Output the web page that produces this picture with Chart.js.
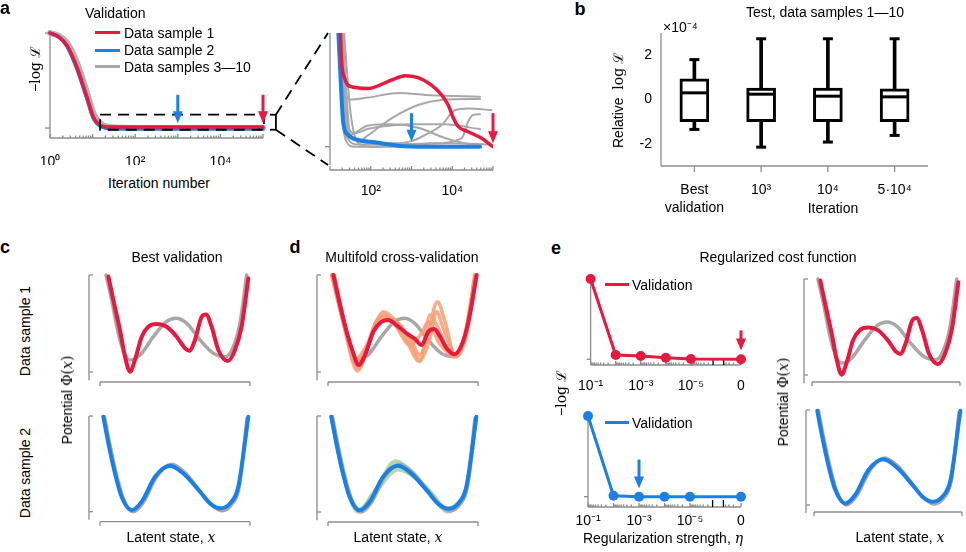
<!DOCTYPE html>
<html>
<head>
<meta charset="utf-8">
<script src="https://cdn.jsdelivr.net/npm/chart.js@4.4.1/dist/chart.umd.min.js"></script>
<style>
  html, body { margin: 0; padding: 0; background: #fff; }
  #fig { position: relative; width: 966px; height: 552px; overflow: hidden;
         font-family: 'Liberation Sans', Arial, sans-serif; font-size: 14px; color: #000; }
  #fig canvas { position: absolute; }
  .lbl { position: absolute; white-space: nowrap; line-height: 1; }
  .tag { font-weight: bold; font-size: 18px; }
  .m { font-family: 'DejaVu Serif', 'Liberation Serif', serif; }
  .mi { font-family: 'DejaVu Serif', 'Liberation Serif', serif; font-style: italic; }
  .sw { position: absolute; height: 3px; }
</style>
</head>
<body>
<div id="fig"></div>
<script>
// ---------- a: validation -log L against iteration (overview) ----------
const overviewIter = [1, 1.6, 2.5, 4.2, 7.3, 10.4, 15, 26, 100, 100000];
const overviewRed  = [1.0, 0.96, 0.87, 0.65, 0.33, 0.12, 0.03, 0.01, 0.01, 0.01];
const overviewBlue = [1.0, 0.96, 0.86, 0.63, 0.31, 0.10, 0.02, -0.005, -0.008, -0.008];
const overviewGray = [1.0, 0.97, 0.90, 0.70, 0.38, 0.16, 0.05, 0.01, 0.0, 0.0];
const zoomBoxIter = [15, 105000];
const zoomBoxLoss = [-0.018, 0.14];

// ---------- a: magnified tail ----------
const redZoomIter  = [18, 19, 23, 34, 87, 324, 692, 1445, 3090, 5500, 7943, 10700, 14100, 24500, 52500, 100000];
const redZoomLoss  = [1.03, 0.79, 0.61, 0.537, 0.522, 0.597, 0.636, 0.618, 0.552, 0.463, 0.373, 0.254, 0.179, 0.134, 0.075, 0.0];
const blueZoomIter = [16, 18, 21, 28, 49, 126, 468, 2138, 48000];
const blueZoomLoss = [1.03, 0.642, 0.224, 0.104, 0.06, 0.039, 0.009, 0.0, 0.0];
const grayZoomIter = [
  [16, 21, 30, 87, 468, 3090, 48000],
  [20, 28, 50, 87, 324, 1445, 5500, 48000],
  [20, 32, 87, 316, 1000, 2138, 5500, 11700, 24500, 91000],
  [19, 25, 50, 316, 3162, 17000, 24500, 32400, 48000],
  [18, 25, 40, 87, 316, 1000, 6310, 48000],
  [20, 28, 87, 324, 1445, 6310, 20000, 48000],
  [17, 20, 25, 40, 316, 48000],
  [22, 32, 50, 100, 1000, 10000, 91000]
];
const grayZoomLoss = [
  [1.03, 0.6, 0.42, 0.44, 0.48, 0.46, 0.448],
  [1.03, 0.15, 0.05, 0.104, 0.254, 0.373, 0.418, 0.427],
  [1.03, 0.1, 0.04, 0.03, 0.05, 0.104, 0.194, 0.328, 0.343, 0.328],
  [1.03, 0.1, 0.02, 0.02, 0.03, 0.075, 0.224, 0.284, 0.29],
  [1.03, 0.25, 0.12, 0.16, 0.19, 0.2, 0.2, 0.158],
  [1.03, 0.1, 0.19, 0.2, 0.17, 0.08, 0.03, 0.01],
  [1.03, 0.3, 0.05, 0.0, 0.0, 0.0],
  [1.03, 0.3, 0.03, 0.0, 0.02, 0.03, 0.02]
];

// ---------- b: test box plots (x 1e-4) ----------
const boxLabels = [['Best', 'validation'], '10³', '10⁴', '5·10⁴'];
const boxMin    = [-1.35, -2.15, -1.92, -1.62];
const boxQ1     = [-1.0, -1.0, -1.0, -1.0];
const boxMedian = [0.3, 0.24, 0.15, 0.12];
const boxQ3     = [0.93, 0.52, 0.52, 0.48];
const boxMax    = [1.8, 2.74, 2.74, 2.74];
const boxTicks  = [-2, 0, 2];

// ---------- c, d, e: potentials (latent x and phi both in axis units 0..1) ----------
const truth1X = [0.04, 0.078, 0.122, 0.167, 0.2, 0.267, 0.356, 0.444, 0.507, 0.578, 0.667, 0.756, 0.836, 0.889, 0.933, 0.978];
const truth1Y = [1.0, 0.742, 0.399, 0.175, 0.124, 0.175, 0.364, 0.519, 0.553, 0.502, 0.33, 0.192, 0.158, 0.261, 0.502, 1.0];
const best1X  = [0.056, 0.089, 0.133, 0.167, 0.2, 0.233, 0.278, 0.322, 0.378, 0.444, 0.511, 0.567, 0.596, 0.633, 0.678, 0.707, 0.744, 0.789, 0.851, 0.9, 0.944, 0.989];
const best1Y  = [0.983, 0.742, 0.433, 0.158, 0.003, 0.124, 0.364, 0.467, 0.495, 0.467, 0.364, 0.244, 0.22, 0.33, 0.57, 0.594, 0.467, 0.227, 0.113, 0.227, 0.467, 0.966];
const truth2X = [0.03, 0.065, 0.11, 0.155, 0.22, 0.29, 0.38, 0.478, 0.566, 0.675, 0.745, 0.812, 0.875, 0.928, 0.98];
const truth2Y = [0.993, 0.71, 0.39, 0.14, 0.0, 0.1, 0.37, 0.495, 0.41, 0.2, 0.07, 0.01, 0.07, 0.26, 0.98];
const best2X  = [0.022, 0.056, 0.1, 0.144, 0.211, 0.278, 0.367, 0.467, 0.556, 0.667, 0.733, 0.8, 0.867, 0.922, 0.989];
const best2Y  = [0.993, 0.714, 0.4, 0.157, 0.017, 0.105, 0.366, 0.481, 0.4, 0.209, 0.087, 0.035, 0.087, 0.261, 0.993];
const cv1X = [0.036, 0.08, 0.124, 0.169, 0.202, 0.247, 0.302, 0.358, 0.402, 0.469, 0.524, 0.58, 0.624, 0.669, 0.709, 0.747, 0.791, 0.842, 0.891, 0.936, 0.991];
const cv1Y = [1.0, 0.69, 0.416, 0.192, 0.072, 0.175, 0.416, 0.519, 0.536, 0.467, 0.399, 0.34, 0.278, 0.416, 0.443, 0.364, 0.244, 0.182, 0.278, 0.519, 1.0];
const foldsRedX = [
  [0.024, 0.102, 0.196, 0.28, 0.369, 0.458, 0.547, 0.613, 0.669, 0.729, 0.78, 0.847, 0.902, 0.98],
  [0.031, 0.11, 0.187, 0.27, 0.369, 0.502, 0.613, 0.68, 0.724, 0.836, 0.91, 0.984],
  [0.024, 0.11, 0.202, 0.336, 0.424, 0.547, 0.624, 0.669, 0.736, 0.847, 0.91, 0.987],
  [0.04, 0.11, 0.18, 0.26, 0.347, 0.48, 0.569, 0.613, 0.68, 0.724, 0.769, 0.858, 0.92, 0.991]
];
const foldsRedY = [
  [1.0, 0.519, 0.01, 0.313, 0.622, 0.519, 0.347, 0.175, 0.416, 0.725, 0.519, 0.175, 0.313, 1.0],
  [1.0, 0.45, 0.072, 0.3, 0.588, 0.381, 0.107, 0.588, 0.485, 0.158, 0.35, 1.0],
  [1.0, 0.47, 0.038, 0.536, 0.519, 0.278, 0.399, 0.519, 0.313, 0.158, 0.33, 1.0],
  [1.0, 0.5, 0.124, 0.28, 0.57, 0.485, 0.244, 0.124, 0.347, 0.622, 0.45, 0.158, 0.36, 0.983]
];
const foldsBlueX = [
  [0.022, 0.1, 0.2, 0.3, 0.45, 0.56, 0.68, 0.8, 0.87, 0.93, 0.989],
  [0.022, 0.1, 0.21, 0.3, 0.46, 0.58, 0.68, 0.8, 0.87, 0.93, 0.989],
  [0.022, 0.1, 0.21, 0.3, 0.47, 0.6, 0.8, 0.87, 0.93, 0.989]
];
const foldsBlueY = [
  [0.993, 0.4, 0.0, 0.18, 0.53, 0.42, 0.2, 0.0, 0.09, 0.3, 0.993],
  [0.993, 0.4, 0.02, 0.2, 0.5, 0.37, 0.22, 0.03, 0.09, 0.27, 0.993],
  [0.993, 0.4, 0.03, 0.17, 0.44, 0.33, 0.04, 0.1, 0.28, 0.993]
];

// ---------- e: validation against regularization strength ----------
const etaValues = [1e-1, 1e-2, 1e-3, 1e-4, 1e-5, 0];
const regLossRed  = [1.0, 0.053, 0.04, 0.02, 0.004, 0.0];
const regLossBlue = [1.0, 0.012, 0.0, 0.0, 0.0, 0.0];
const ETA_ZERO_AT = 1e-7;                    // where the broken axis puts eta = 0
const etaTickValues = [1e-1, 1e-3, 1e-5, ETA_ZERO_AT];
const etaTickLabels = ['10⁻¹', '10⁻³', '10⁻⁵', '0'];
const etaBreaks = [1.3e-6, 4.9e-7];

const RED = '#e8183f', BLUE = '#1b80e6', GRAY = '#a8a8a8', AXIS = '#8c8c8c';
const ORANGE = 'rgba(248,158,115,0.85)', GREEN = 'rgba(150,200,140,0.7)';

Chart.defaults.font.family = "'Liberation Sans', Arial, sans-serif";
Chart.defaults.font.size = 14;
Chart.defaults.color = '#000';

const fig = document.getElementById('fig');

function seg(ctx, x0, y0, x1, y1) {
  ctx.beginPath(); ctx.moveTo(x0, y0); ctx.lineTo(x1, y1); ctx.stroke();
}

function logTicks(lo, hi) {
  const major = [], minor = [];
  for (let e = lo; e <= hi; e++) {
    major.push(Math.pow(10, e));
    if (e < hi) for (let k = 2; k <= 9; k++) minor.push(k * Math.pow(10, e));
  }
  return {major, minor};
}

// axes lines, drawn by hand so they can sit offset from the plot like the original
function drawSpines(chart, s) {
  const {ctx, chartArea: a} = chart;
  const X = chart.scales.x, Y = chart.scales.y;
  ctx.save();
  ctx.strokeStyle = AXIS;
  ctx.lineWidth = 1.3;
  if (s.y) {
    const px = a.left - (s.y.gap || 0);
    const y0 = s.y.from == null ? a.top : Y.getPixelForValue(s.y.from);
    const y1 = s.y.to == null ? a.bottom : Y.getPixelForValue(s.y.to);
    seg(ctx, px, y0, px, y1);
    (s.y.ticks || []).forEach(t => {
      const py = Y.getPixelForValue(t);
      seg(ctx, px, py, px + s.y.dir * s.y.len, py);
    });
  }
  if (s.x) {
    const py = a.bottom + (s.x.gap || 0);
    const x0 = s.x.from == null ? a.left : X.getPixelForValue(s.x.from);
    const x1 = s.x.to == null ? a.right : X.getPixelForValue(s.x.to);
    seg(ctx, x0, py, x1, py);
    (s.x.ticks || []).forEach(t => {
      const px = X.getPixelForValue(t);
      seg(ctx, px, py, px, py + s.x.dir * s.x.len);
    });
    (s.x.minor || []).forEach(t => {
      const px = X.getPixelForValue(t);
      seg(ctx, px, py, px, py + s.x.dir * s.x.minorLen);
    });
    if (s.x.breaks) {
      ctx.strokeStyle = '#000';
      s.x.breaks.forEach(t => {
        const px = X.getPixelForValue(t);
        seg(ctx, px, py, px, py - 7);
      });
    }
  }
  ctx.restore();
}

function drawArrow(chart, ar) {
  const ctx = chart.ctx;
  const x = chart.scales.x.getPixelForValue(ar.x);
  const yTop = chart.scales.y.getPixelForValue(ar.from);
  const yTip = chart.scales.y.getPixelForValue(ar.to);
  const head = 12, half = 5;
  ctx.save();
  ctx.strokeStyle = ar.color; ctx.fillStyle = ar.color; ctx.lineWidth = 3;
  seg(ctx, x, yTop, x, yTip - head + 2);
  ctx.beginPath();
  ctx.moveTo(x - half, yTip - head); ctx.lineTo(x + half, yTip - head); ctx.lineTo(x, yTip);
  ctx.closePath(); ctx.fill();
  ctx.restore();
}

function decorations(deco) {
  return {
    id: 'deco',
    beforeDatasetsDraw(chart) {
      if (deco.spines) drawSpines(chart, deco.spines);
    },
    afterDatasetsDraw(chart) {
      const ctx = chart.ctx;
      if (deco.zoomBox) {
        const z = deco.zoomBox, X = chart.scales.x, Y = chart.scales.y;
        const x0 = X.getPixelForValue(z.iter[0]), x1 = X.getPixelForValue(z.iter[1]);
        const yt = Y.getPixelForValue(z.loss[1]), yb = Y.getPixelForValue(z.loss[0]);
        ctx.save();
        ctx.strokeStyle = '#000'; ctx.lineWidth = 1.8;
        ctx.setLineDash([11, 7]);
        ctx.strokeRect(x0, yt, x1 - x0, yb - yt);
        ctx.setLineDash([]);
        const bx = x1 + 12;
        seg(ctx, bx - 6, yt, bx, yt); seg(ctx, bx, yt, bx, yb); seg(ctx, bx - 6, yb, bx, yb);
        ctx.restore();
      }
      if (deco.connect) {
        const c = deco.connect, a = chart.chartArea;
        ctx.save();
        ctx.strokeStyle = '#000'; ctx.lineWidth = 1.8;
        ctx.setLineDash([11, 7]);
        seg(ctx, c.x, c.top, a.left - 2, a.top);
        seg(ctx, c.x, c.bottom, a.left - 2, a.bottom);
        ctx.restore();
      }
      (deco.arrows || []).forEach(ar => drawArrow(chart, ar));
    }
  };
}

function makeChart(box, area, config, deco, axisH, axisW) {
  axisH = axisH || 0; axisW = axisW || 0;
  const [L, T, W, H] = box;
  const cv = document.createElement('canvas');
  cv.width = W; cv.height = H;
  cv.style.left = L + 'px'; cv.style.top = T + 'px';
  cv.style.width = W + 'px'; cv.style.height = H + 'px';
  fig.appendChild(cv);
  const o = config.options;
  o.responsive = false;
  o.animation = false;
  o.events = [];
  o.devicePixelRatio = 1;
  o.layout = {autoPadding: false, padding: {
    left: area[0] - L - axisW, top: area[1] - T,
    right: L + W - area[2], bottom: T + H - area[3] - axisH
  }};
  o.plugins = {legend: {display: false}, tooltip: {enabled: false}};
  Object.assign(o.scales.x, {display: axisH > 0, grid: {display: false, drawTicks: false},
    border: {display: false}, afterFit: s => { s.height = axisH; }});
  Object.assign(o.scales.y, {display: axisW > 0, grid: {display: false, drawTicks: false},
    border: {display: false}, afterFit: s => { s.width = axisW; }});
  config.plugins = [decorations(deco || {})];
  return new Chart(cv, config);
}

function curve(xs, ys, color, width, clip) {
  return {
    data: xs.map((x, i) => ({x: x, y: ys[i]})),
    borderColor: color, borderWidth: width, pointRadius: 0,
    cubicInterpolationMode: 'monotone', fill: false,
    clip: clip == null ? 6 : clip, borderCapStyle: 'round', borderJoinStyle: 'round'
  };
}

function potentialChart(box, area, datasets, gap) {
  return makeChart(box, area, {
    type: 'line',
    data: {datasets: datasets},
    options: {scales: {x: {type: 'linear', min: 0, max: 1}, y: {type: 'linear', min: 0, max: 1}}}
  }, {spines: {
    y: {gap: gap, from: 1, to: -0.085, ticks: [0, 1], dir: 1, len: 4},
    x: {gap: gap - 1, from: 0, to: 1, ticks: [0, 1], dir: 1, len: 4}
  }});
}

function regChart(box, area, yMin, losses, color, arrow, axisH, pad) {
  const lt = logTicks(-7, -1);
  return makeChart(box, area, {
    type: 'line',
    data: {datasets: [{
      data: etaValues.map((e, i) => ({x: e === 0 ? ETA_ZERO_AT : e, y: losses[i]})),
      borderColor: color, borderWidth: 3, pointRadius: 5, pointBackgroundColor: color,
      pointBorderWidth: 0, tension: 0, clip: false
    }]},
    options: {scales: {
      x: {type: 'logarithmic', reverse: true, min: ETA_ZERO_AT, max: 0.1,
          afterBuildTicks: s => { s.ticks = etaTickValues.map(v => ({value: v})); },
          ticks: {callback: (v, i) => etaTickLabels[i], padding: pad, maxRotation: 0, autoSkip: false}},
      y: {type: 'linear', min: yMin, max: 1}
    }}
  }, {
    spines: {
      y: {gap: 0, from: 1, to: null, ticks: [0], dir: -1, len: 4},
      x: {gap: 0, from: 0.1, to: ETA_ZERO_AT, ticks: lt.major.filter(v => v !== 1e-6), dir: -1, len: 4,
          minor: lt.minor.filter(v => v < etaBreaks[1] * 0.99 || v > etaBreaks[0]), minorLen: 2.5,
          breaks: etaBreaks}
    },
    arrows: [arrow]
  }, axisH, 0);
}

// ---------- panel a ----------
const aTicks = logTicks(0, 5);
const chartA = makeChart([0, 0, 285, 165], [50, 33, 263, 138], {
  type: 'line',
  data: {datasets: [
    curve(overviewIter, overviewRed, RED, 3.5, 4),
    curve(overviewIter, overviewBlue, BLUE, 3.5, 4),
    curve(overviewIter, overviewGray, '#b2b2b2', 6, 4)
  ]},
  options: {scales: {
    x: {type: 'logarithmic', min: 1, max: 100000,
        afterBuildTicks: s => { s.ticks = [1, 100, 10000].map(v => ({value: v})); },
        ticks: {callback: (v, i) => ['10⁰', '10²', '10⁴'][i], padding: 16, maxRotation: 0, autoSkip: false}},
    y: {type: 'linear', min: -0.105, max: 1}
  }}
}, {
  spines: {
    y: {gap: 0, from: 1, to: null, ticks: [0, 1], dir: -1, len: 5},
    x: {gap: 0, ticks: aTicks.major, dir: -1, len: 4, minor: aTicks.minor, minorLen: 2.5}
  },
  zoomBox: {iter: zoomBoxIter, loss: zoomBoxLoss},
  arrows: [
    {x: 1000, from: 0.35, to: 0.05, color: BLUE},
    {x: 100000, from: 0.35, to: 0.05, color: RED}
  ]
}, 27, 0);

const zTicks = logTicks(1, 5);
const bracketX = chartA.scales.x.getPixelForValue(zoomBoxIter[1]) + 12;
makeChart([270, 0, 235, 200], [330, 33, 493, 165], {
  type: 'line',
  data: {datasets: [
    curve(redZoomIter, redZoomLoss, RED, 3.5, 0),
    curve(blueZoomIter, blueZoomLoss, BLUE, 4, 0)
  ].concat(grayZoomIter.map((it, k) => curve(it, grayZoomLoss[k], GRAY, 2, 0)))},
  options: {scales: {
    x: {type: 'logarithmic', min: 10, max: 100000,
        afterBuildTicks: s => { s.ticks = [100, 10000].map(v => ({value: v})); },
        ticks: {callback: (v, i) => ['10²', '10⁴'][i], padding: 18, maxRotation: 0, autoSkip: false}},
    y: {type: 'linear', min: -0.164, max: 1.018}
  }}
}, {
  spines: {
    y: {gap: 0, ticks: [0], dir: -1, len: 5},
    x: {gap: 5, from: 10, to: 100000, ticks: zTicks.major, dir: -1, len: 4, minor: zTicks.minor, minorLen: 2.5}
  },
  connect: {x: bracketX - 270, top: chartA.scales.y.getPixelForValue(zoomBoxLoss[1]),
            bottom: chartA.scales.y.getPixelForValue(zoomBoxLoss[0])},
  arrows: [
    {x: 1000, from: 0.3, to: 0.045, color: BLUE},
    {x: 100000, from: 0.3, to: 0.03, color: RED}
  ]
}, 35, 0);

// ---------- panel b ----------
makeChart([600, 0, 366, 220], [661, 33, 928, 166], {
  type: 'bar',
  data: {
    labels: boxLabels,
    datasets: [
      {type: 'line', data: boxMedian, showLine: false, pointStyle: 'line', pointRadius: 13,
       pointBorderWidth: 3, pointBorderColor: '#000', order: 0},
      {type: 'line', data: boxMax, showLine: false, pointStyle: 'line', pointRadius: 5,
       pointBorderWidth: 3, pointBorderColor: '#000', order: 0},
      {type: 'line', data: boxMin, showLine: false, pointStyle: 'line', pointRadius: 5,
       pointBorderWidth: 3, pointBorderColor: '#000', order: 0},
      {type: 'bar', data: boxQ1.map((q, i) => [q, boxQ3[i]]), backgroundColor: '#fff',
       borderColor: '#000', borderWidth: 3, borderSkipped: false, barThickness: 29, grouped: false, order: 1},
      {type: 'bar', data: boxMin.map((m, i) => [m, boxMax[i]]), backgroundColor: '#000',
       borderWidth: 0, barThickness: 3, grouped: false, order: 2}
    ]
  },
  options: {scales: {
    x: {type: 'category', offset: true,
        ticks: {padding: 15, font: {lineHeight: 1.3}, maxRotation: 0, autoSkip: false}},
    y: {type: 'linear', min: -3, max: 3,
        afterBuildTicks: s => { s.ticks = boxTicks.map(v => ({value: v})); },
        ticks: {padding: 9, callback: v => String(v)}}
  }}
}, {
  spines: {
    y: {gap: 0, ticks: []},
    x: {gap: 0, ticks: [0, 1, 2, 3], dir: 1, len: 6}
  }
}, 54, 61);

// ---------- panel c ----------
potentialChart([60, 262, 200, 130], [100, 275, 250, 372], [
  curve(best1X, best1Y, RED, 4),
  curve(truth1X, truth1Y, GRAY, 3.5)
], 11);
potentialChart([60, 400, 200, 130], [100, 416, 250, 511.7], [
  curve(best2X, best2Y, BLUE, 4),
  curve(truth2X, truth2Y, GRAY, 3.5)
], 11);

// ---------- panel d ----------
potentialChart([295, 262, 195, 130], [328, 275, 478, 372], [
  curve(cv1X, cv1Y, RED, 4)
].concat(foldsRedX.map((xs, k) => curve(xs, foldsRedY[k], ORANGE, 3.5)))
 .concat([curve(truth1X, truth1Y, GRAY, 3.5)]), 11);
potentialChart([295, 400, 195, 130], [328, 416, 478, 512], [
  curve(best2X, best2Y, BLUE, 4),
  curve(truth2X, truth2Y, GRAY, 3.5)
].concat(foldsBlueX.map((xs, k) => curve(xs, foldsBlueY[k], GREEN, 3.5))), 11);

// ---------- panel e ----------
regChart([565, 265, 195, 135], [588, 279, 741, 365], -0.071, regLossRed, RED,
  {x: ETA_ZERO_AT, from: 0.36, to: 0.11, color: RED}, 35, 13);
regChart([565, 405, 195, 140], [588, 416, 741, 507], -0.128, regLossBlue, BLUE,
  {x: 1e-3, from: 0.46, to: 0.1, color: BLUE}, 38, 6);
potentialChart([785, 262, 181, 130], [812, 279, 960, 375], [
  curve(best1X, best1Y, RED, 4),
  curve(truth1X, truth1Y, GRAY, 3.5)
], 8);
potentialChart([785, 395, 181, 130], [814, 410, 962, 505], [
  curve(best2X, best2Y, BLUE, 4),
  curve(truth2X, truth2Y, GRAY, 3.5)
], 8);

// ---------- text ----------
function label(html, x, y, cls, how) {
  const d = document.createElement('div');
  d.className = 'lbl' + (cls ? ' ' + cls : '');
  d.innerHTML = html;
  d.style.left = x + 'px';
  d.style.top = y + 'px';
  if (how === 'left') d.style.transform = 'translate(0,-50%)';
  else if (how === 'rot') d.style.transform = 'translate(-50%,-50%) rotate(-90deg)';
  else d.style.transform = 'translate(-50%,-50%)';
  fig.appendChild(d);
}
function swatch(x, y, w, color) {
  const d = document.createElement('div');
  d.className = 'sw';
  d.style.cssText += `left:${x}px;top:${y - 1.5}px;width:${w}px;background:${color}`;
  fig.appendChild(d);
}

const negLogL = '<span>−</span><span class="m">log</span> ℒ';
const potential = 'Potential <span class="m">Φ(</span><span class="mi">x</span><span class="m">)</span>';
const latent = 'Latent state, <span class="mi">x</span>';

label('a', 5, 8, 'tag');
label('Validation', 85, 13, null, 'left');
swatch(95, 32.7, 25, RED);  label('Data sample 1', 124, 33, null, 'left');
swatch(95, 50, 25, BLUE);   label('Data sample 2', 124, 50, null, 'left');
swatch(95, 66.5, 25, GRAY); label('Data samples 3—10', 124, 67, null, 'left');
label(negLogL, 35, 69, null, 'rot');
label('Iteration number', 159, 183);

label('b', 580, 9, 'tag');
label('Test, data samples 1—10', 825, 12);
label('×10⁻⁴', 663, 27, null, 'left');
label('Relative&nbsp; <span class="m">log</span> ℒ', 618, 100, null, 'rot');
label('Iteration', 833, 208);

label('c', 5, 247, 'tag');
label('d', 295, 247, 'tag');
label('e', 556, 248, 'tag');
label('Best validation', 177, 257);
label('Multifold cross-validation', 402, 257);
label('Regularized cost function', 778, 257);
label('Data sample 1', 25, 331, null, 'rot');
label('Data sample 2', 25, 473, null, 'rot');
label(potential, 67, 400, null, 'rot');
label(potential, 783, 402, null, 'rot');
label(latent, 171, 537);
label(latent, 398, 537);
label(latent, 900, 537);
label(negLogL, 561, 393, null, 'rot');
label('Regularization strength, <span class="mi">η</span>', 663, 538);
swatch(605, 284.5, 24, RED);  label('Validation', 632, 285, null, 'left');
swatch(605, 422.7, 24, BLUE); label('Validation', 632, 423, null, 'left');
</script>
</body>
</html>
